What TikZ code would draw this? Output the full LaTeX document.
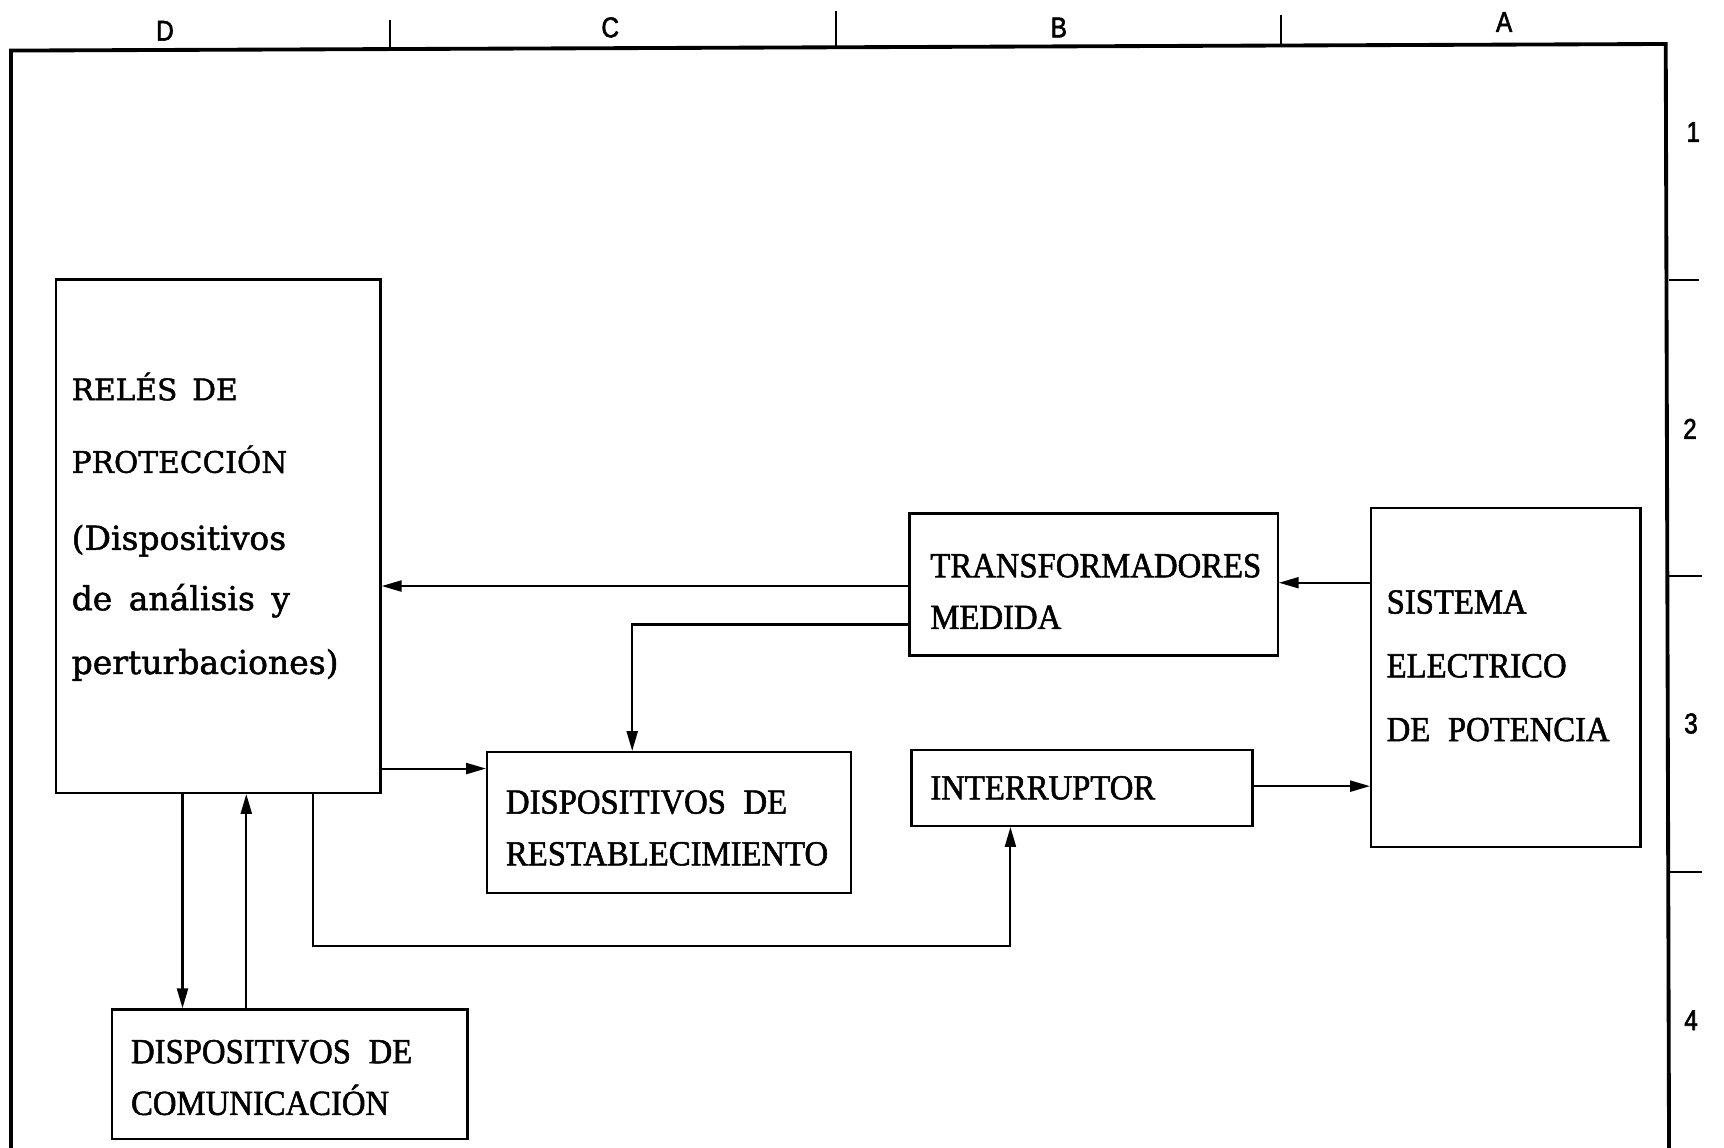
\documentclass[tikz,border=0pt]{standalone}
\usepackage{fontspec}
\setmainfont{Liberation Serif}
\newfontfamily\capfont[FakeStretch=0.93,FakeBold=1.5]{Liberation Serif}
\newfontfamily\relfont[FakeBold=1.5]{DejaVu Serif}
\newfontfamily\lblfont[FakeStretch=0.85,FakeBold=2]{Liberation Sans}
\newcommand\lcline[1]{{\fontsize{30}{55}\selectfont #1}}
\usetikzlibrary{arrows.meta}
\begin{document}
\begin{tikzpicture}[x=1pt,y=-1pt,
  box/.style={draw, line width=2.2pt, anchor=north west, inner sep=0pt},
  captxt/.style={font=\capfont\fontsize{32}{47}\selectfont, anchor=base west, align=left, inner sep=0pt},
  reltxt/.style={font=\relfont\fontsize{27}{55}\selectfont, anchor=base west, align=left, inner sep=0pt},
  arr/.style={-{Triangle[length=18pt,width=10pt]}, line width=1.9pt},
  tick/.style={line width=1.6pt},
  lbl/.style={font=\lblfont\fontsize{26}{30}\selectfont, inner sep=0pt}]
\useasboundingbox (0,0) rectangle (1568,1044);
% frame
\draw[line width=3.5pt, line join=miter] (10,1044) -- (10,46) -- (1515,40) -- (1518,1044);
\draw[tick] (355,18) -- (355,44);
\draw[tick] (760,10) -- (760,43);
\draw[tick] (1165,14) -- (1165,41);
\draw[tick] (1518,255) -- (1545,255);
\draw[tick] (1518,524) -- (1548,524);
\draw[tick] (1518,793) -- (1548,793);
\node[lbl] (lD) at (150,28) {D};
\node[lbl] (lC) at (555,25) {C};
\node[lbl] (lB) at (963,25) {B};
\node[lbl] (lA) at (1368,20) {A};
\node[lbl] (n1) at (1540,120) {1};
\node[lbl] (n2) at (1537,390) {2};
\node[lbl] (n3) at (1538,658) {3};
\node[lbl] (n4) at (1538,928) {4};
% boxes
\node[box, minimum width=295pt, minimum height=467pt] (relay) at (50,253) {};
\node[reltxt] (relay-t) at (65,613)
  {RELÉS\hspace{0.5em}DE\\[11pt]PROTECCIÓN\\[15pt]\lcline{(Dispositivos}\\\lcline{de\hspace{0.5em}análisis\hspace{0.5em}y}\\[3pt]\lcline{perturbaciones)}};
\node[box, minimum width=335pt, minimum height=129pt] (trafo) at (826,466) {};
\node[captxt] (trafo-t) at (846,572) {TRANSFORMADORES\\MEDIDA};
\node[box, minimum width=245pt, minimum height=308pt] (sistema) at (1246,461) {};
\node[captxt, font=\capfont\fontsize{32}{58}\selectfont] (sistema-t) at (1261,674)
  {SISTEMA\\ELECTRICO\\DE\hspace{0.5em}POTENCIA};
\node[box, minimum width=310pt, minimum height=69pt] (interr) at (828,681) {};
\node[captxt] (interr-t) at (846,727) {INTERRUPTOR};
\node[box, minimum width=331pt, minimum height=128pt] (restab) at (442,683) {};
\node[captxt] (restab-t) at (460,787) {DISPOSITIVOS\hspace{0.5em}DE\\RESTABLECIMIENTO};
\node[box, minimum width=323pt, minimum height=118pt] (comun) at (101,917) {};
\node[captxt] (comun-t) at (119,1014) {DISPOSITIVOS\hspace{0.5em}DE\\COMUNICACIÓN};
% connectors
\coordinate (bend) at (285,860);
\draw[arr] (sistema.west |- 0,530) -- (trafo.east |- 0,530);
\draw[arr] (trafo.west |- 0,533) -- (relay.east |- 0,533);
\draw[arr] (trafo.west |- 0,568) -| (restab.north -| 575,0);
\draw[arr] (relay.east |- 0,699) -- (restab.west |- 0,699);
\draw[arr] (relay.south -| bend) -- (bend) -| (interr.south -| 919,0);
\draw[arr] (interr.east |- 0,715) -- (sistema.west |- 0,715);
\draw[arr] (relay.south -| 166,0) -- (comun.north -| 166,0);
\draw[arr] (comun.north -| 224,0) -- (relay.south -| 224,0);
\end{tikzpicture}
\end{document}
